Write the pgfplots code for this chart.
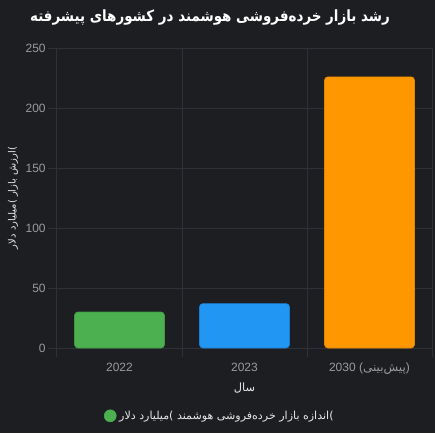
\documentclass[border=0pt]{standalone}
\usepackage{fontspec}
\setmainfont{Liberation Sans}
\newfontfamily\arabicfont[Script=Arabic]{DejaVu Sans}
\newfontfamily\arabictitle[Script=Arabic, FakeStretch=0.87]{DejaVu Sans}
\TeXXeTstate=1
\usepackage{pgfplots}
\pgfplotsset{compat=1.18}
\usetikzlibrary{backgrounds}

\definecolor{bgcol}{HTML}{1D1E22}
\definecolor{gridcol}{HTML}{303136}
\definecolor{tickcol}{HTML}{9A9A9A}
\definecolor{labcol}{HTML}{E6E6E6}
\definecolor{greenbar}{HTML}{4CAF50}
\definecolor{greenedge}{HTML}{3E9A42}
\definecolor{bluebar}{HTML}{2196F3}
\definecolor{blueedge}{HTML}{1A7ED0}
\definecolor{orangebar}{HTML}{FF9800}
\definecolor{orangeedge}{HTML}{E08400}

\begin{document}
\begin{tikzpicture}
\begin{axis}[
    scale only axis,
    width=281.25pt, height=225pt,
    xmin=-0.5, xmax=2.5,
    ymin=0, ymax=250,
    ytick={0,50,100,150,200,250},
    xtick={0,1,2},
    xticklabels={2022,2023,{2030 ({\arabicfont\beginR پیش‌بینی\endR})}},
    axis line style={draw=none},
    tick align=outside,
    ytick pos=left, xtick pos=bottom,
    ymajorgrids,
    grid style={gridcol, line width=0.75pt},
    ytick style={gridcol, line width=0.75pt},
    major tick length=6.5pt,
    xtick style={draw=none},
    extra x ticks={-0.5,0.5,1.5,2.5},
    extra x tick labels={},
    extra x tick style={grid=major, xtick pos=bottom, xtick style={draw=gridcol, line width=0.75pt}},
    /pgf/number format/assume math mode=true,
    tick label style={tickcol, font=\fontsize{9}{10}\selectfont},
    yticklabel style={xshift=1.5pt},
    xticklabel style={yshift=-1pt},
    xlabel={\arabicfont سال},
    xlabel style={at={(axis description cs:0.5,-0.135)}, anchor=center, labcol, font=\fontsize{8.5}{10}\selectfont},
    ylabel={{\arabicfont\beginR ارزش بازار \hbox{)}میلیارد دلار\endR)}},
    ylabel style={at={(axis description cs:-0.117,0.5)}, anchor=center, labcol, font=\fontsize{7.5}{9}\selectfont},
    title={\arabictitle\bfseries\beginR رشد بازار خرده‌فروشی هوشمند در کشورهای پیشرفته\endR},
    title style={at={(axis description cs:0.408,1.074)}, anchor=center, white, font=\fontsize{11.6}{13}\selectfont},
    legend style={at={(axis description cs:0.435,-0.226)}, anchor=center,
        draw=none, fill=none, text=labcol, font=\fontsize{8.3}{10}\selectfont,
        /tikz/every even column/.append style={column sep=0pt}},
    legend image code/.code={\fill[greenbar] (-0.1em,0pt) circle (4.5pt);},
]
\addplot[ybar, bar width=0.72, bar shift=0pt, fill=greenbar, draw=greenedge, rounded corners=2.5pt] coordinates {(0,30)};
\addlegendentry{{\arabicfont\beginR اندازه بازار خرده‌فروشی هوشمند \hbox{)}میلیارد دلار\endR)}}
\addplot[ybar, bar width=0.72, bar shift=0pt, fill=bluebar, draw=blueedge, rounded corners=2.5pt, forget plot] coordinates {(1,37)};
\addplot[ybar, bar width=0.72, bar shift=0pt, fill=orangebar, draw=orangeedge, rounded corners=2.5pt, forget plot] coordinates {(2,226)};
\coordinate (O) at (axis cs:-0.5,0);
\end{axis}
\begin{scope}[on background layer]
\fill[bgcol] ([shift={(-42.75pt,-63.75pt)}]O) rectangle ([shift={(283.5pt,261pt)}]O);
\end{scope}
\pgfresetboundingbox
\path[use as bounding box] ([shift={(-42.75pt,-63.75pt)}]O) rectangle ([shift={(283.5pt,261pt)}]O);
\end{tikzpicture}
\end{document}
